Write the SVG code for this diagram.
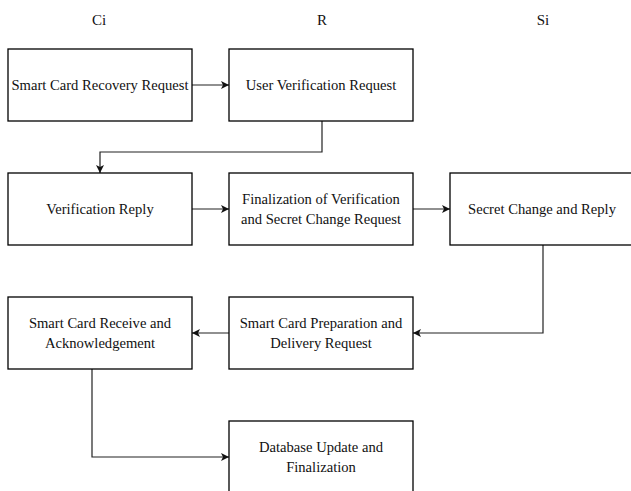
<svg xmlns="http://www.w3.org/2000/svg" width="631" height="491" viewBox="0 0 631 491">
<style>
  .box{fill:#fff;stroke:#000;stroke-width:1.3}
  .t{font-family:"Liberation Serif","Times New Roman",serif;font-size:14.6px;fill:#111;text-anchor:middle}
  .h{font-family:"Liberation Serif","Times New Roman",serif;font-size:15px;fill:#111;text-anchor:middle}
  .c{fill:none;stroke:#222;stroke-width:1.2}
</style>
<defs>
  <marker id="arr" viewBox="0 0 10 10" refX="10" refY="5" markerWidth="8" markerHeight="8" markerUnits="userSpaceOnUse" orient="auto">
    <path d="M0,0 L10,5 L0,10 L2.5,5 Z" fill="#111"/>
  </marker>
</defs>
<rect width="631" height="491" fill="#fff"/>
<g id="lanes">
  <text class="h" x="99" y="25">Ci</text>
  <text class="h" x="322" y="25">R</text>
  <text class="h" x="543" y="25">Si</text>
</g>
<g id="connectors">
  <path class="c" d="M192,85 H229" marker-end="url(#arr)"/>
  <path class="c" d="M322,121 V152 H100 V173" marker-end="url(#arr)"/>
  <path class="c" d="M192,209 H229" marker-end="url(#arr)"/>
  <path class="c" d="M413,209 H450" marker-end="url(#arr)"/>
  <path class="c" d="M543,245 V333 H413" marker-end="url(#arr)"/>
  <path class="c" d="M229,333 H192" marker-end="url(#arr)"/>
  <path class="c" d="M92,369 V457 H229" marker-end="url(#arr)"/>
</g>
<g id="n1">
  <rect class="box" x="8" y="49" width="184" height="72"/>
  <text class="t" x="100" y="90">Smart Card Recovery Request</text>
</g>
<g id="n2">
  <rect class="box" x="229" y="49" width="184" height="72"/>
  <text class="t" x="321" y="90">User Verification Request</text>
</g>
<g id="n3">
  <rect class="box" x="8" y="173" width="184" height="72"/>
  <text class="t" x="100" y="214">Verification Reply</text>
</g>
<g id="n4">
  <rect class="box" x="229" y="173" width="184" height="72"/>
  <text class="t" x="321" y="204">Finalization of Verification</text>
  <text class="t" x="321" y="224">and Secret Change Request</text>
</g>
<g id="n5">
  <rect class="box" x="450" y="173" width="184" height="72"/>
  <text class="t" x="542" y="214">Secret Change and Reply</text>
</g>
<g id="n6">
  <rect class="box" x="8" y="297" width="184" height="72"/>
  <text class="t" x="100" y="328">Smart Card Receive and</text>
  <text class="t" x="100" y="348">Acknowledgement</text>
</g>
<g id="n7">
  <rect class="box" x="229" y="297" width="184" height="72"/>
  <text class="t" x="321" y="328">Smart Card Preparation and</text>
  <text class="t" x="321" y="348">Delivery Request</text>
</g>
<g id="n8">
  <rect class="box" x="229" y="421" width="184" height="72"/>
  <text class="t" x="321" y="452">Database Update and</text>
  <text class="t" x="321" y="472">Finalization</text>
</g>
</svg>
